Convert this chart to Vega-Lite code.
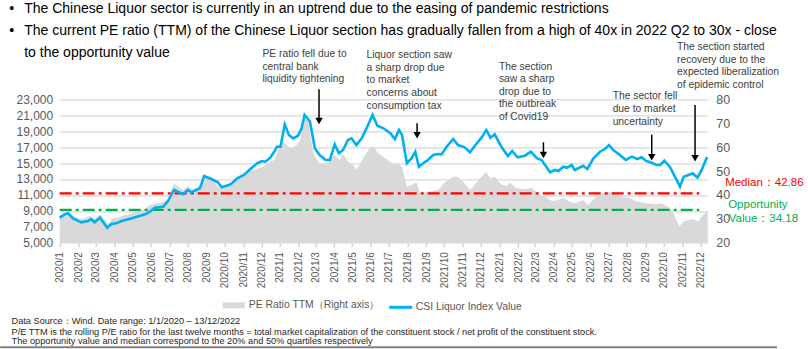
{
  "$schema": "https://vega.github.io/schema/vega-lite/v6.json",
  "width": 648,
  "height": 143.4,
  "autosize": "none",
  "padding": {"left": 59.7, "top": 99.3, "right": 100.3, "bottom": 106.3},
  "background": "white",
  "config": {
    "view": {"stroke": null},
    "font": "Liberation Sans"
  },
  "datasets": {
    "idx": [
      {"d":"2020-01-01","v":8140},{"d":"2020-01-09","v":8560},{"d":"2020-01-15","v":8690},{"d":"2020-01-23","v":8060},
      {"d":"2020-02-06","v":7560},{"d":"2020-02-17","v":7720},{"d":"2020-02-22","v":7970},{"d":"2020-02-28","v":7560},
      {"d":"2020-03-08","v":8140},{"d":"2020-03-20","v":6880},{"d":"2020-03-27","v":7350},{"d":"2020-04-04","v":7430},
      {"d":"2020-04-13","v":7720},{"d":"2020-04-30","v":8060},{"d":"2020-05-14","v":8390},{"d":"2020-05-22","v":8560},
      {"d":"2020-05-30","v":8890},{"d":"2020-06-07","v":9390},{"d":"2020-06-21","v":9520},{"d":"2020-06-29","v":10230},
      {"d":"2020-07-09","v":11620},{"d":"2020-07-24","v":11080},{"d":"2020-08-01","v":11620},{"d":"2020-08-07","v":11330},
      {"d":"2020-08-21","v":11820},{"d":"2020-08-28","v":13370},{"d":"2020-09-09","v":13000},{"d":"2020-09-20","v":12580},
      {"d":"2020-09-26","v":11950},{"d":"2020-10-08","v":12240},{"d":"2020-10-13","v":12450},{"d":"2020-10-22","v":13080},
      {"d":"2020-11-02","v":13500},{"d":"2020-11-13","v":14250},{"d":"2020-11-24","v":14970},{"d":"2020-12-02","v":15250},
      {"d":"2020-12-08","v":15170},{"d":"2020-12-16","v":15670},{"d":"2020-12-22","v":16350},{"d":"2020-12-27","v":17050},
      {"d":"2021-01-02","v":17050},{"d":"2021-01-09","v":19860},{"d":"2021-01-16","v":18520},{"d":"2021-01-23","v":18100},
      {"d":"2021-01-31","v":18430},{"d":"2021-02-06","v":19360},{"d":"2021-02-11","v":21030},{"d":"2021-02-20","v":20190},
      {"d":"2021-02-28","v":16850},{"d":"2021-03-08","v":16010},{"d":"2021-03-18","v":15380},{"d":"2021-03-25","v":15380},
      {"d":"2021-04-02","v":17350},{"d":"2021-04-09","v":16220},{"d":"2021-04-16","v":16640},{"d":"2021-04-24","v":17890},
      {"d":"2021-04-30","v":18100},{"d":"2021-05-08","v":17260},{"d":"2021-05-17","v":18100},{"d":"2021-05-25","v":19360},
      {"d":"2021-06-04","v":21030},{"d":"2021-06-12","v":19690},{"d":"2021-06-22","v":19360},{"d":"2021-07-04","v":18700},
      {"d":"2021-07-11","v":18000},{"d":"2021-07-18","v":19150},{"d":"2021-07-23","v":18520},{"d":"2021-07-31","v":14970},
      {"d":"2021-08-08","v":15600},{"d":"2021-08-14","v":16420},{"d":"2021-08-20","v":14540},{"d":"2021-08-27","v":14970},
      {"d":"2021-09-04","v":15380},{"d":"2021-09-13","v":16010},{"d":"2021-09-21","v":16130},{"d":"2021-09-27","v":16100},
      {"d":"2021-10-05","v":17050},{"d":"2021-10-16","v":18010},{"d":"2021-10-24","v":17260},{"d":"2021-11-04","v":16970},
      {"d":"2021-11-13","v":16350},{"d":"2021-11-21","v":17170},{"d":"2021-12-02","v":18180},{"d":"2021-12-10","v":19150},
      {"d":"2021-12-17","v":18180},{"d":"2021-12-24","v":18600},{"d":"2022-01-04","v":17050},{"d":"2022-01-15","v":15880},
      {"d":"2022-01-22","v":16510},{"d":"2022-01-31","v":15720},{"d":"2022-02-12","v":15920},{"d":"2022-02-22","v":16420},
      {"d":"2022-03-04","v":15600},{"d":"2022-03-12","v":15380},{"d":"2022-03-26","v":13840},{"d":"2022-04-03","v":14130},
      {"d":"2022-04-09","v":14000},{"d":"2022-04-17","v":14540},{"d":"2022-04-23","v":14410},{"d":"2022-05-01","v":14750},
      {"d":"2022-05-06","v":14130},{"d":"2022-05-20","v":14660},{"d":"2022-05-27","v":14250},{"d":"2022-06-06","v":15600},
      {"d":"2022-06-17","v":16420},{"d":"2022-06-25","v":16760},{"d":"2022-07-02","v":17260},{"d":"2022-07-09","v":16640},
      {"d":"2022-07-20","v":16010},{"d":"2022-07-30","v":15380},{"d":"2022-08-09","v":15800},{"d":"2022-08-18","v":15510},
      {"d":"2022-08-25","v":15720},{"d":"2022-09-02","v":15250},{"d":"2022-09-11","v":15040},{"d":"2022-09-19","v":14750},
      {"d":"2022-09-25","v":14750},{"d":"2022-10-02","v":15290},{"d":"2022-10-11","v":14540},{"d":"2022-10-21","v":13080},
      {"d":"2022-10-28","v":12030},{"d":"2022-11-03","v":13280},{"d":"2022-11-11","v":13500},{"d":"2022-11-18","v":13710},
      {"d":"2022-11-26","v":13160},{"d":"2022-12-03","v":14130},{"d":"2022-12-11","v":15600},{"d":"2022-12-13","v":15500}
    ],
    "pe": [
      {"d":"2020-01-01","p":31.2},{"d":"2020-01-14","p":32.4},{"d":"2020-01-23","p":31.2},{"d":"2020-02-07","p":29.7},
      {"d":"2020-02-20","p":31.2},{"d":"2020-02-28","p":29.9},{"d":"2020-03-08","p":32.0},{"d":"2020-03-21","p":27.8},
      {"d":"2020-03-28","p":29.9},{"d":"2020-04-14","p":31.2},{"d":"2020-05-01","p":32.4},{"d":"2020-05-22","p":34.1},
      {"d":"2020-05-30","p":35.8},{"d":"2020-06-21","p":37.0},{"d":"2020-06-29","p":38.3},{"d":"2020-07-09","p":44.8},
      {"d":"2020-07-24","p":42.1},{"d":"2020-08-01","p":43.7},{"d":"2020-08-08","p":42.1},{"d":"2020-08-21","p":44.1},
      {"d":"2020-08-28","p":47.2},{"d":"2020-09-10","p":46.2},{"d":"2020-09-23","p":42.8},{"d":"2020-10-10","p":44.9},
      {"d":"2020-10-27","p":47.6},{"d":"2020-11-09","p":49.7},{"d":"2020-11-23","p":50.8},{"d":"2020-12-04","p":51.8},
      {"d":"2020-12-15","p":53.9},{"d":"2020-12-23","p":54.6},{"d":"2021-01-04","p":62.3},{"d":"2021-01-09","p":61.6},
      {"d":"2021-01-15","p":60.2},{"d":"2021-01-20","p":59.5},{"d":"2021-01-29","p":60.9},{"d":"2021-02-03","p":62.3},
      {"d":"2021-02-11","p":72.0},{"d":"2021-02-17","p":70.6},{"d":"2021-02-24","p":59.5},{"d":"2021-02-28","p":56.0},
      {"d":"2021-03-08","p":53.2},{"d":"2021-03-19","p":52.5},{"d":"2021-04-02","p":56.7},{"d":"2021-04-10","p":54.6},
      {"d":"2021-04-17","p":57.0},{"d":"2021-04-24","p":53.9},{"d":"2021-05-03","p":52.5},{"d":"2021-05-08","p":50.4},
      {"d":"2021-05-19","p":55.3},{"d":"2021-05-30","p":59.5},{"d":"2021-06-06","p":60.2},{"d":"2021-06-13","p":57.4},
      {"d":"2021-06-22","p":56.0},{"d":"2021-07-03","p":53.9},{"d":"2021-07-11","p":52.5},{"d":"2021-07-17","p":53.2},
      {"d":"2021-07-23","p":51.8},{"d":"2021-07-31","p":43.4},{"d":"2021-08-08","p":44.1},{"d":"2021-08-16","p":45.3},
      {"d":"2021-08-22","p":40.7},{"d":"2021-09-04","p":41.3},{"d":"2021-09-21","p":42.1},{"d":"2021-10-02","p":45.3},
      {"d":"2021-10-16","p":47.6},{"d":"2021-10-24","p":47.6},{"d":"2021-11-04","p":44.9},{"d":"2021-11-13","p":42.1},
      {"d":"2021-11-21","p":44.4},{"d":"2021-12-02","p":47.6},{"d":"2021-12-10","p":49.5},{"d":"2021-12-17","p":46.9},
      {"d":"2021-12-24","p":47.6},{"d":"2022-01-04","p":44.4},{"d":"2022-01-13","p":43.8},{"d":"2022-01-18","p":45.3},
      {"d":"2022-01-29","p":42.8},{"d":"2022-02-12","p":42.5},{"d":"2022-02-23","p":43.0},{"d":"2022-03-06","p":40.7},
      {"d":"2022-03-17","p":39.2},{"d":"2022-03-29","p":37.4},{"d":"2022-04-09","p":37.9},{"d":"2022-04-17","p":38.8},
      {"d":"2022-04-25","p":37.4},{"d":"2022-05-06","p":36.5},{"d":"2022-05-20","p":37.9},{"d":"2022-05-28","p":35.8},
      {"d":"2022-06-08","p":38.6},{"d":"2022-06-22","p":40.7},{"d":"2022-07-02","p":41.3},{"d":"2022-07-12","p":40.3},
      {"d":"2022-07-23","p":39.2},{"d":"2022-08-06","p":38.6},{"d":"2022-08-17","p":37.2},{"d":"2022-09-02","p":36.5},
      {"d":"2022-09-19","p":36.1},{"d":"2022-09-27","p":36.5},{"d":"2022-10-08","p":35.1},{"d":"2022-10-17","p":32.3},
      {"d":"2022-10-27","p":26.7},{"d":"2022-11-02","p":28.8},{"d":"2022-11-11","p":29.5},{"d":"2022-11-19","p":29.9},
      {"d":"2022-11-27","p":28.8},{"d":"2022-12-05","p":31.6},{"d":"2022-12-13","p":33.0}
    ],
    "refs": [
      {"k":"median","p":40.6,"d1":"2020-01-01","d2":"2022-11-29"},
      {"k":"opportunity","p":33.7,"d1":"2020-01-01","d2":"2022-11-29"}
    ],
    "reflabels": [
      {"d":"2023-01-11","v":12142,"t":"Median：42.86","k":"median"},
      {"d":"2023-01-16","v":9305,"t":"Opportunity","k":"opportunity"},
      {"d":"2023-01-17","v":7623,"t":"Value：34.18","k":"opportunity"}
    ],
    "notes": [
      {"d":"2020-12-03","v":28320,"t":"PE ratio fell due to\ncentral bank\nliquidity tightening"},
      {"d":"2021-05-25","v":28150,"t":"Liquor section saw\na sharp drop due\nto market\nconcerns about\nconsumption tax"},
      {"d":"2021-12-31","v":26740,"t":"The section\nsaw a sharp\ndrop due to\nthe outbreak\nof Covid19"},
      {"d":"2022-07-08","v":22975,"t":"The sector fell\ndue to market\nuncertainty"},
      {"d":"2022-10-23","v":29160,"t":"The section started\nrecovery due to the\nexpected liberalization\nof epidemic control"}
    ],
    "arrows": [
      {"d":"2021-03-07","top":24255,"h":20262},
      {"d":"2021-08-17","top":19987,"h":18479},
      {"d":"2022-03-15","top":17602,"h":15994},
      {"d":"2022-09-11","top":18556,"h":15718},
      {"d":"2022-11-22","top":22284,"h":15592}
    ],
    "heading": [
      {"d":"2019-10-09","v":33870,"t":"•"},
      {"d":"2019-11-03","v":33870,"t":"The Chinese Liquor sector is currently in an uptrend due to the easing of pandemic restrictions"},
      {"d":"2019-10-09","v":31108,"t":"•"},
      {"d":"2019-11-03","v":31108,"t":"The current PE ratio (TTM) of the Chinese Liquor section has gradually fallen from a high of 40x in 2022 Q2 to 30x - close"},
      {"d":"2019-11-03","v":28347,"t":"to the opportunity value"}
    ],
    "footer": [
      {"d":"2019-10-13","v":-5205,"t":"Data Source：Wind. Date range: 1/1/2020 – 13/12/2022"},
      {"d":"2019-10-13","v":-6535,"t":"P/E TTM is the rolling P/E ratio for the last twelve months = total market capitalization of the constituent stock / net profit of the constituent stock."},
      {"d":"2019-10-13","v":-7753,"t":"The opportunity value and median correspond to the 20% and 50% quartiles respectively"}
    ],
    "border": [
      {"d1":"2019-09-24","d2":"2023-04-07","v":-8129}
    ]
  },
  "resolve": {"scale": {"y": "independent"}},
  "layer": [
    {
      "data": {"name": "pe"},
      "mark": {"type": "area", "interpolate": "linear"},
      "encoding": {
        "x": {"field": "d", "type": "temporal",
          "scale": {"type": "utc", "domain": [{"year":2020,"month":1,"date":1,"utc":true},{"year":2022,"month":12,"date":13,"utc":true}]},
          "axis": {"orient": "bottom", "format": "%Y/%-m", "tickCount": {"interval": "month", "step": 1},
            "labelAngle": 270, "labelFontSize": 10, "labelColor": "#595959", "labelOverlap": false,
            "labelFlush": false, "labelBound": false, "grid": false, "domain": false, "ticks": true,
            "tickColor": "#BFBFBF", "tickSize": 4, "labelPadding": 5, "title": null}},
        "y": {"field": "p", "type": "quantitative",
          "scale": {"domain": [20, 80], "nice": false, "zero": false},
          "axis": {"orient": "right", "values": [20,30,40,50,60,70,80], "grid": false, "domain": false,
            "ticks": false, "labelPadding": 8, "labelFontSize": 12.5, "labelColor": "#595959", "title": null}},
        "y2": {"datum": 20},
        "fill": {"datum": "PE Ratio TTM（Right axis）", "type": "nominal",
          "scale": {"range": ["#D9D9D9"]},
          "legend": {"orient": "none", "legendX": 163, "legendY": 195, "title": null,
            "symbolType": "M-1,-0.27L1,-0.27L1,0.27L-1,0.27Z", "symbolSize": 484, "symbolStrokeWidth": 0,
            "labelFontSize": 10.4, "labelColor": "#595959", "labelOffset": 4, "padding": 0}}
      }
    },
    {
      "data": {"name": "refs"},
      "mark": {"type": "rule", "strokeWidth": 2.2, "strokeDash": [12, 4, 3, 4]},
      "encoding": {
        "x": {"field": "d1", "type": "temporal",
          "scale": {"type": "utc", "domain": [{"year":2020,"month":1,"date":1,"utc":true},{"year":2022,"month":12,"date":13,"utc":true}]}},
        "x2": {"field": "d2"},
        "y": {"field": "p", "type": "quantitative", "scale": {"domain": [20, 80], "nice": false, "zero": false}, "axis": null},
        "color": {"field": "k", "type": "nominal",
          "scale": {"domain": ["median", "opportunity"], "range": ["#FF0000", "#00B050"]}, "legend": null}
      }
    },
    {
      "data": {"name": "idx"},
      "mark": {"type": "line", "strokeWidth": 2.6, "interpolate": "linear"},
      "encoding": {
        "x": {"field": "d", "type": "temporal",
          "scale": {"type": "utc", "domain": [{"year":2020,"month":1,"date":1,"utc":true},{"year":2022,"month":12,"date":13,"utc":true}]}},
        "y": {"field": "v", "type": "quantitative",
          "scale": {"domain": [5000, 23000], "nice": false, "zero": false},
          "axis": {"orient": "left", "values": [5000,7000,9000,11000,13000,15000,17000,19000,21000,23000],
            "format": ",.0f", "grid": true, "gridColor": "#D9D9D9", "gridWidth": 1.3, "domain": false,
            "ticks": false, "labelPadding": 7, "labelFontSize": 12, "labelColor": "#595959", "title": null}},
        "stroke": {"datum": "CSI Liquor Index Value", "type": "nominal",
          "scale": {"range": ["#00B0F0"]},
          "legend": {"orient": "none", "legendX": 328, "legendY": 195, "title": null,
            "symbolType": "stroke", "symbolSize": 529, "symbolStrokeWidth": 3,
            "labelFontSize": 10.4, "labelColor": "#595959", "labelOffset": 2, "padding": 0}}
      }
    },
    {
      "data": {"name": "reflabels"},
      "mark": {"type": "text", "align": "left", "baseline": "alphabetic", "fontSize": 11.5},
      "encoding": {
        "x": {"field": "d", "type": "temporal",
          "scale": {"type": "utc", "domain": [{"year":2020,"month":1,"date":1,"utc":true},{"year":2022,"month":12,"date":13,"utc":true}]}},
        "y": {"field": "v", "type": "quantitative", "scale": {"domain": [5000, 23000], "nice": false, "zero": false}, "axis": null},
        "text": {"field": "t"},
        "color": {"field": "k", "type": "nominal",
          "scale": {"domain": ["median", "opportunity"], "range": ["#FF0000", "#00B050"]}, "legend": null}
      }
    },
    {
      "data": {"name": "notes"},
      "mark": {"type": "text", "align": "left", "baseline": "alphabetic", "fontSize": 10.3, "lineHeight": 12.6, "lineBreak": "\n", "color": "#404040"},
      "encoding": {
        "x": {"field": "d", "type": "temporal",
          "scale": {"type": "utc", "domain": [{"year":2020,"month":1,"date":1,"utc":true},{"year":2022,"month":12,"date":13,"utc":true}]}},
        "y": {"field": "v", "type": "quantitative", "scale": {"domain": [5000, 23000], "nice": false, "zero": false}, "axis": null},
        "text": {"field": "t"}
      }
    },
    {
      "data": {"name": "arrows"},
      "mark": {"type": "rule", "strokeWidth": 1.5, "color": "#000000"},
      "encoding": {
        "x": {"field": "d", "type": "temporal",
          "scale": {"type": "utc", "domain": [{"year":2020,"month":1,"date":1,"utc":true},{"year":2022,"month":12,"date":13,"utc":true}]}},
        "y": {"field": "top", "type": "quantitative", "scale": {"domain": [5000, 23000], "nice": false, "zero": false}, "axis": null},
        "y2": {"field": "h"}
      }
    },
    {
      "data": {"name": "arrows"},
      "mark": {"type": "point", "shape": "triangle-down", "filled": true, "size": 56, "color": "#000000", "opacity": 1},
      "encoding": {
        "x": {"field": "d", "type": "temporal",
          "scale": {"type": "utc", "domain": [{"year":2020,"month":1,"date":1,"utc":true},{"year":2022,"month":12,"date":13,"utc":true}]}},
        "y": {"field": "h", "type": "quantitative", "scale": {"domain": [5000, 23000], "nice": false, "zero": false}, "axis": null}
      }
    },
    {
      "data": {"name": "heading"},
      "mark": {"type": "text", "align": "left", "baseline": "alphabetic", "fontSize": 14, "color": "#000000"},
      "encoding": {
        "x": {"field": "d", "type": "temporal",
          "scale": {"type": "utc", "domain": [{"year":2020,"month":1,"date":1,"utc":true},{"year":2022,"month":12,"date":13,"utc":true}]}},
        "y": {"field": "v", "type": "quantitative", "scale": {"domain": [5000, 23000], "nice": false, "zero": false}, "axis": null},
        "text": {"field": "t"}
      }
    },
    {
      "data": {"name": "footer"},
      "mark": {"type": "text", "align": "left", "baseline": "alphabetic", "fontSize": 9.2, "color": "#262626"},
      "encoding": {
        "x": {"field": "d", "type": "temporal",
          "scale": {"type": "utc", "domain": [{"year":2020,"month":1,"date":1,"utc":true},{"year":2022,"month":12,"date":13,"utc":true}]}},
        "y": {"field": "v", "type": "quantitative", "scale": {"domain": [5000, 23000], "nice": false, "zero": false}, "axis": null},
        "text": {"field": "t"}
      }
    },
    {
      "data": {"name": "border"},
      "mark": {"type": "rule", "strokeWidth": 2, "color": "#808080"},
      "encoding": {
        "x": {"field": "d1", "type": "temporal",
          "scale": {"type": "utc", "domain": [{"year":2020,"month":1,"date":1,"utc":true},{"year":2022,"month":12,"date":13,"utc":true}]}},
        "x2": {"field": "d2"},
        "y": {"field": "v", "type": "quantitative", "scale": {"domain": [5000, 23000], "nice": false, "zero": false}, "axis": null}
      }
    }
  ]
}
